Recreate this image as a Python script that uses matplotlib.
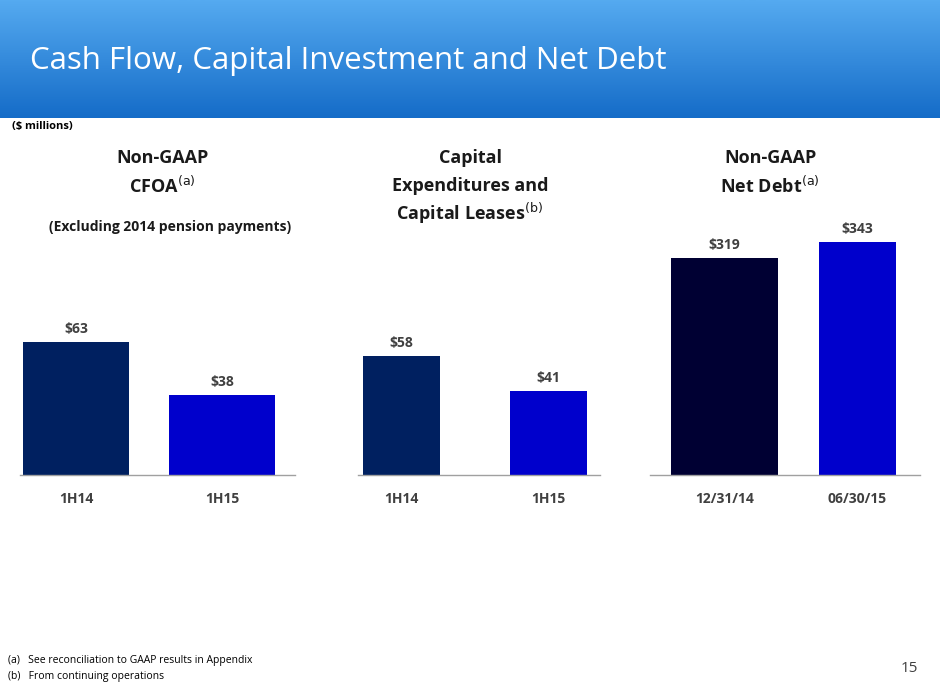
import numpy as np
import matplotlib.pyplot as plt

W, H = 940, 686

cfoa_labels = ['1H14', '1H15']
cfoa_values = [63, 38]
capex_labels = ['1H14', '1H15']
capex_values = [58, 41]
debt_labels = ['12/31/14', '06/30/15']
debt_values = [319, 343]

fig = plt.figure(figsize=(W / 100, H / 100), dpi=100)
plt.rcParams['font.family'] = ['Open Sans', 'DejaVu Sans']


def px_axes(x0, y0, x1, y1):
    """pixel box (top-left origin) -> figure axes"""
    return fig.add_axes([x0 / W, 1 - y1 / H, (x1 - x0) / W, (y1 - y0) / H])


# header gradient band
hdr = px_axes(0, 0, W, 118)
grad = np.linspace(0, 1, 100).reshape(-1, 1)
top = np.array([0x55, 0xAA, 0xF0]) / 255
bot = np.array([0x15, 0x6C, 0xC8]) / 255
img = top + (bot - top) * grad[:, :, None]
hdr.imshow(img, aspect='auto', extent=[0, 1, 0, 1])
hdr.axis('off')
fig.text(30 / W, 1 - 61 / H, 'Cash Flow, Capital Investment and Net Debt',
         color='white', fontsize=22.5, va='center')
fig.text(12 / W, 1 - 127 / H, '($ millions)', fontsize=8, fontweight='bold', va='center')


def panel(box, labels, values, colors, ppu, bw, line=None):
    ax = px_axes(*box)
    h = box[3] - box[1]
    ax.bar(range(len(values)), values, color=colors, width=bw)
    ax.set_xlim(-0.5, len(values) - 0.5)
    ax.set_ylim(0, h / ppu)
    for s in ['top', 'right', 'left', 'bottom']:
        ax.spines[s].set_visible(False)
    if line:
        span = box[2] - box[0]
        a = (line[0] - box[0]) / span * len(values) - 0.5
        b = (line[1] - box[0]) / span * len(values) - 0.5
        ax.plot([a, b], [0, 0], color='#A0A0A0', lw=1, clip_on=False)
    ax.set_yticks([])
    ax.set_xticks(range(len(values)))
    ax.set_xticklabels(labels, fontsize=10, fontweight='bold', color='#404040')
    ax.tick_params(axis='x', length=0, pad=12)
    for i, v in enumerate(values):
        ax.text(i, v + 6 / ppu, f'${v}', ha='center', va='bottom',
                fontsize=10, fontweight='bold', color='#404040')
    return ax


panel((3, 200, 295, 475), cfoa_labels, cfoa_values, ['#002060', '#0000CC'], 2.11, 0.72, (20, 295))
panel((328, 200, 622, 475), capex_labels, capex_values, ['#002060', '#0000CC'], 2.05, 0.52, (358, 600))
panel((658, 200, 924, 475), debt_labels, debt_values, ['#000033', '#0000CC'], 0.68, [0.8, 0.58], (650, 920))

tk = dict(ha='center', va='center', fontsize=13, fontweight='bold', color='#1a1a1a')
fig.text(162 / W, 1 - 158 / H, 'Non-GAAP', **tk)
fig.text(162 / W, 1 - 186 / H, r'CFOA$^{\mathrm{(a)}}$', **tk)
fig.text(170 / W, 1 - 227 / H, '(Excluding 2014 pension payments)',
         ha='center', va='center', fontsize=10, fontweight='bold', color='#1a1a1a')
fig.text(470 / W, 1 - 158 / H, 'Capital', **tk)
fig.text(470 / W, 1 - 186 / H, 'Expenditures and', **tk)
fig.text(470 / W, 1 - 213 / H, r'Capital Leases$^{\mathrm{(b)}}$', **tk)
fig.text(770 / W, 1 - 158 / H, 'Non-GAAP', **tk)
fig.text(770 / W, 1 - 186 / H, r'Net Debt$^{\mathrm{(a)}}$', **tk)

fig.text(8 / W, 1 - 660 / H, '(a)   See reconciliation to GAAP results in Appendix', fontsize=7.5, va='center')
fig.text(8 / W, 1 - 677 / H, '(b)   From continuing operations', fontsize=7.5, va='center')
fig.text(918 / W, 1 - 668 / H, '15', fontsize=11, ha='right', va='center', color='#404040')

fig.savefig('out.png', dpi=100)
